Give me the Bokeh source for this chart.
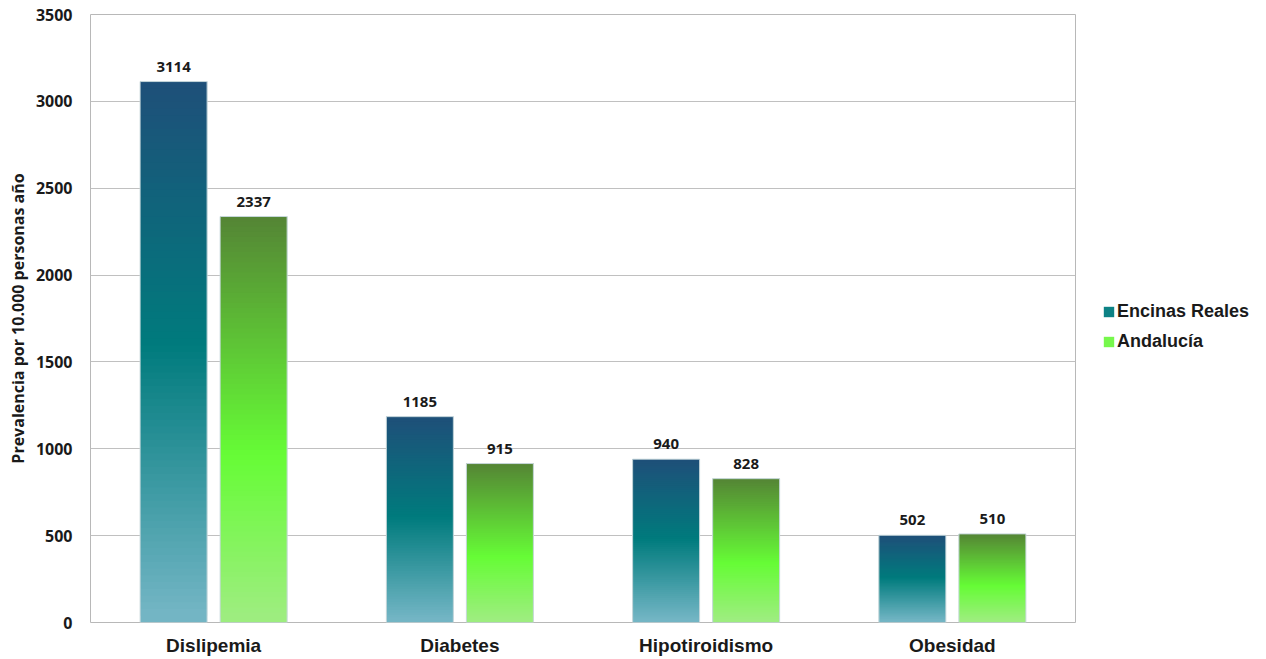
from bokeh.plotting import figure
from bokeh.models import (Range1d, FixedTicker, ColumnDataSource, Legend, LegendItem, LabelSet)
from bokeh.core.properties import value
from bokeh.embed import file_html
from bokeh.resources import INLINE

categories = ["Dislipemia", "Diabetes", "Hipotiroidismo", "Obesidad"]
series_names = ["Encinas Reales", "Andalucía"]
encinas = [3114, 1185, 940, 502]
andalucia = [2337, 915, 828, 510]
y_ticks = [0, 500, 1000, 1500, 2000, 2500, 3000, 3500]

# gradient stops (top, middle, bottom)
blue_stops = [(0.0, "#1f4e79"), (0.5, "#007b7d"), (1.0, "#74b6c5")]
green_stops = [(0.0, "#548235"), (0.6, "#66fc36"), (1.0, "#9eed80")]


def hex2rgb(h):
    h = h.lstrip("#")
    return tuple(int(h[i:i + 2], 16) for i in (0, 2, 4))


def interp(stops, t):
    for (t0, c0), (t1, c1) in zip(stops[:-1], stops[1:]):
        if t0 <= t <= t1:
            f = (t - t0) / (t1 - t0) if t1 > t0 else 0
            a, b = hex2rgb(c0), hex2rgb(c1)
            return "#%02x%02x%02x" % tuple(int(round(a[k] + (b[k] - a[k]) * f)) for k in range(3))
    return stops[-1][1]


p = figure(frame_width=985, frame_height=608, output_backend="svg", toolbar_location=None,
           x_range=Range1d(0, 4), y_range=Range1d(0, 3500),
           min_border_left=90, min_border_top=14, min_border_right=186, min_border_bottom=35)

bar_w = 0.272
offset = 0.1625
N = 80
grad_renderers = []
for vals, stops, off in [(encinas, blue_stops, -offset), (andalucia, green_stops, offset)]:
    left, right, bottom, top, color = [], [], [], [], []
    for i, v in enumerate(vals):
        cx = i + 0.5 + off
        for k in range(N):
            t0 = k / N
            t1 = (k + 1) / N
            top.append(v * min(1.0, 1 - t0 + 1.0 / N))
            bottom.append(v * (1 - t1))
            left.append(cx - bar_w / 2)
            right.append(cx + bar_w / 2)
            color.append(interp(stops, (t0 + t1) / 2))
    r = p.quad(left=left, right=right, bottom=bottom, top=top, fill_color=color, line_color=None)
    grad_renderers.append(r)
    xs = [i + 0.5 + off for i in range(len(vals))]
    p.quad(left=[x - bar_w / 2 for x in xs], right=[x + bar_w / 2 for x in xs],
           bottom=[0] * len(vals), top=vals, fill_alpha=0, line_color="#c8d8dc", line_width=1)
    src = ColumnDataSource(dict(x=xs, y=vals, t=[str(v) for v in vals]))
    p.add_layout(LabelSet(x="x", y="y", text="t", source=src, text_align="center",
                          text_baseline="bottom", y_offset=10, text_font=value("Open Sans"),
                          text_font_style="bold", text_font_size="15px", text_color="#1a1a1a"))

legend = Legend(items=[LegendItem(label=series_names[0], renderers=[grad_renderers[0]], index=int(N * 0.55)),
                       LegendItem(label=series_names[1], renderers=[grad_renderers[1]], index=int(N * 0.72))],
                location=(27, 270), glyph_width=13, glyph_height=13, label_standoff=2,
                label_height=18, spacing=9, padding=0, margin=0, border_line_color=None,
                background_fill_alpha=0, label_text_font="Liberation Sans",
                label_text_font_style="bold", label_text_font_size="18px", label_text_color="#1a1a1a")
p.add_layout(legend, "right")

p.xaxis.ticker = FixedTicker(ticks=[i + 0.5 for i in range(len(categories))])
p.xaxis.major_label_overrides = {i + 0.5: c for i, c in enumerate(categories)}
p.xaxis.major_label_text_font = "Liberation Sans"
p.xaxis.major_label_text_font_style = "bold"
p.xaxis.major_label_text_font_size = "19px"
p.xaxis.major_label_text_color = "#1a1a1a"
p.xaxis.major_label_standoff = 6
p.xaxis.major_tick_line_color = None
p.xaxis.minor_tick_line_color = None
p.xaxis.axis_line_color = None

p.yaxis.ticker = FixedTicker(ticks=y_ticks)
p.yaxis.major_label_text_font = "Open Sans"
p.yaxis.major_label_text_font_style = "bold"
p.yaxis.major_label_text_font_size = "16px"
p.yaxis.major_label_text_color = "#1a1a1a"
p.yaxis.major_label_standoff = 12
p.yaxis.major_tick_line_color = None
p.yaxis.minor_tick_line_color = None
p.yaxis.axis_line_color = None
p.yaxis.axis_label = "Prevalencia por 10.000 personas año"
p.yaxis.axis_label_text_font = "Open Sans"
p.yaxis.axis_label_text_font_style = "bold"
p.yaxis.axis_label_text_font_size = "16px"
p.yaxis.axis_label_text_color = "#1a1a1a"
p.yaxis.axis_label_standoff = 4

p.xgrid.grid_line_color = None
p.ygrid.grid_line_color = "#c0c0c0"
p.ygrid.grid_line_width = 1
p.outline_line_color = "#b8b8b8"
p.outline_line_width = 1

open("out.html", "w").write(file_html(p, INLINE))
